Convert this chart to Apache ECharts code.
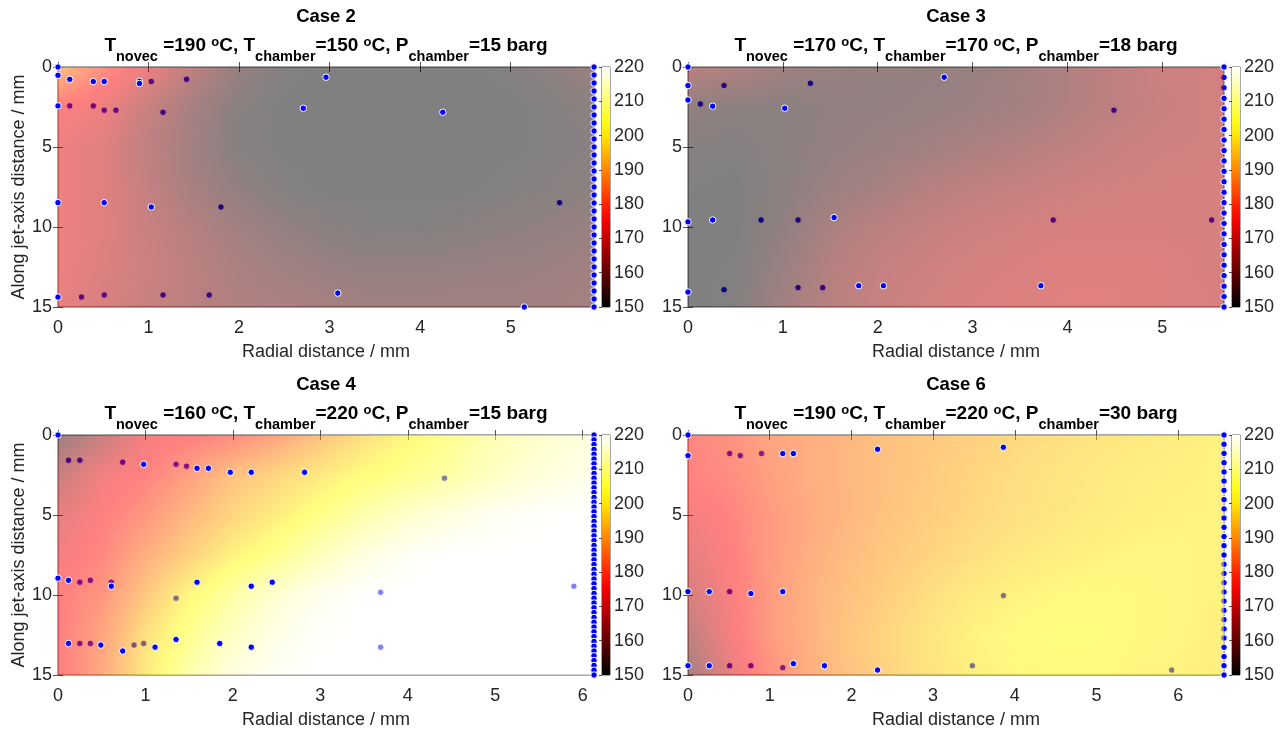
<!DOCTYPE html>
<html>
<head>
<meta charset="utf-8">
<script src="https://cdn.jsdelivr.net/npm/echarts@6/dist/echarts.min.js"></script>
<style>
  html, body { margin: 0; padding: 0; background: #ffffff; }
  #chart { width: 1283px; height: 730px; }
</style>
</head>
<body>
<div id="chart"></div>
<script>
// ---- case descriptions ----
const caseNames = ['Case 2', 'Case 3', 'Case 4', 'Case 6'];
const tNovec = [190, 170, 160, 190];
const tChamber = [150, 170, 220, 220];
const pChamber = [15, 18, 15, 30];
const radialMax = [5.92, 5.65, 6.13, 6.56];

// ---- axes ticks ----
const axialTicks = [0, 5, 10, 15];
const radialTicks = [[0, 1, 2, 3, 4, 5], [0, 1, 2, 3, 4, 5], [0, 1, 2, 3, 4, 5, 6], [0, 1, 2, 3, 4, 5, 6]];
const tempTicks = [150, 160, 170, 180, 190, 200, 210, 220];

// ---- temperature field samples (°C): rows along the jet axis, columns radial ----
const fieldAxial = [0, 2.5, 5, 7.5, 10, 12.5, 15];

const case2Radial = [0, 0.5, 1, 1.5, 2, 2.5, 3, 3.5, 4, 4.5, 5, 5.5, 5.92];
const case2Field = [
  [189, 180, 172, 163, 154.5, 151, 150, 150, 150, 150, 151, 153, 156],
  [176, 173, 165, 158, 152, 150, 150, 150, 150, 150, 150, 151, 153],
  [173, 170, 163, 157, 151.5, 150, 150, 150, 150, 150, 150, 151, 152],
  [173, 170, 164, 158, 153.5, 151, 150, 150, 150, 150, 151, 152, 153],
  [173, 170, 165, 161, 157, 154, 152, 151, 151, 152, 153, 154, 155],
  [173, 169, 166, 162, 159, 157, 155, 154, 154, 155, 155, 156, 157],
  [172, 168, 165, 162, 160, 159, 158, 157, 157, 157, 157, 157, 158]
];

const case3Radial = [0, 0.5, 1, 1.5, 2, 2.5, 3, 3.5, 4, 4.5, 5, 5.5, 5.65];
const case3Field = [
  [162, 160, 157, 155, 154, 154, 155, 157, 160, 163, 166, 167, 167],
  [154, 153, 152.5, 153.5, 154, 155, 156, 157.5, 160, 163, 165, 167, 167],
  [151.5, 151, 152.5, 154, 155.5, 157, 159, 161, 163, 165, 166.5, 167, 167.5],
  [150.5, 150, 152.5, 155.5, 158, 161, 163, 164.5, 166, 167, 167.5, 168, 168],
  [150, 150, 153.5, 159, 162, 164, 166, 167, 168, 168, 168, 168, 168],
  [150, 150.5, 155.5, 161, 164, 166, 167.5, 168.5, 169.5, 169.5, 169, 168, 168],
  [150, 151, 157, 162, 165, 167, 168.5, 169.5, 170, 170, 169, 168.5, 168]
];

const case4Radial = [0, 0.5, 1, 1.5, 2, 2.5, 3, 3.5, 4, 4.5, 5, 5.5, 6, 6.13];
const case4Field = [
  [156, 165, 174, 176, 179, 184, 190, 196, 201, 205, 210, 213, 215, 216],
  [165, 174, 177, 183, 190, 194, 198, 202, 205, 208, 212, 215, 217, 218],
  [171, 176, 181, 188, 194, 199, 204, 209, 213, 216, 218.5, 219.5, 220, 220],
  [174, 178, 186, 193, 200, 205, 211, 216, 219, 220, 220, 220, 220, 220],
  [176, 181, 191, 201, 208, 214, 218, 220, 220, 220, 220, 220, 220, 220],
  [176, 184, 196, 205, 212, 217, 219.5, 220, 220, 220, 220, 220, 220, 220],
  [175, 185, 198, 209, 216, 219, 220, 220, 220, 220, 220, 220, 220, 220]
];

const case6Radial = [0, 0.5, 1, 1.5, 2, 2.5, 3, 3.5, 4, 4.5, 5, 5.5, 6, 6.56];
const case6Field = [
  [178, 180, 184, 186, 188, 190, 191.5, 193, 194.5, 196, 197, 198, 199, 200],
  [177, 179, 183, 186, 188, 190, 192, 194, 195.5, 197, 198, 199, 199.5, 200],
  [174, 177, 182, 185.5, 188, 190.5, 192.5, 194.5, 196, 197.5, 198.5, 199.5, 200, 200],
  [171, 176, 182, 186, 189, 191.5, 194, 196, 198, 199, 200, 200.5, 200.5, 200],
  [168, 175, 182, 187, 190, 193, 196, 198.5, 200, 201, 201.5, 201, 200.5, 200],
  [163, 174, 182, 187, 191, 194.5, 197.5, 200, 201.5, 202, 202, 201, 200.5, 199.5],
  [158, 171, 180, 186, 190.5, 194, 197, 199.5, 201, 201.5, 201.5, 200.5, 200, 199]
];

// ---- measurement points [radial mm, axial mm]; "above" sit over the surface, "below" under it ----
const case2Above = [[0, 0], [0, 0.52], [0.13, 0.77], [0.39, 0.91], [0.51, 0.91], [0.9, 0.89], [0.9, 1.03], [2.96, 0.64],
  [0, 2.43], [2.71, 2.58], [4.25, 2.83], [0, 8.48], [0.51, 8.48], [1.03, 8.75], [0, 14.38], [3.09, 14.13], [5.15, 15.0]];
const case2Below = [[1.03, 0.91], [1.42, 0.77], [0.13, 2.43], [0.39, 2.43], [0.51, 2.7], [0.64, 2.7], [1.16, 2.83],
  [1.8, 8.75], [5.54, 8.48], [0.26, 14.38], [0.51, 14.25], [1.16, 14.25], [1.67, 14.25]];
const case2EdgeAbove = [0, 0.5, 1, 1.5, 2, 2.5, 3, 3.5, 4, 4.5, 5, 5.5, 6, 6.5, 7, 7.5, 8, 8.5, 9, 9.5, 10,
  10.5, 11, 11.5, 12, 12.5, 13, 13.5, 14, 14.5, 15];
const case2EdgeBelow = [];

const case3Above = [[0, 0], [0, 1.16], [2.7, 0.64], [0, 2.06], [0.26, 2.45], [1.02, 2.58], [0, 9.68], [0.26, 9.56],
  [1.54, 9.41], [0, 14.07], [1.8, 13.67], [2.06, 13.67], [3.72, 13.67]];
const case3Below = [[0.38, 1.16], [1.29, 1.02], [0.13, 2.31], [4.49, 2.7], [0.77, 9.56], [1.16, 9.56], [3.85, 9.56],
  [5.52, 9.56], [0.38, 13.92], [1.16, 13.79], [1.42, 13.79]];
const case3EdgeAbove = [0, 1.96, 2.61, 3.26, 3.91, 4.57, 5.22, 5.87, 6.52, 7.17, 7.83, 8.48, 9.13, 9.78, 10.43,
  11.09, 11.74, 12.39, 13.04, 13.7, 14.35, 15];
const case3EdgeBelow = [0.65, 1.3];

const case4Above = [[0, 0], [0.98, 1.83], [1.59, 2.08], [1.72, 2.08], [1.97, 2.33], [2.21, 2.33], [2.82, 2.33],
  [0, 8.95], [0.12, 9.08], [0.61, 9.45], [1.59, 9.2], [2.21, 9.45], [2.45, 9.2], [0.12, 13.03], [0.49, 13.13],
  [0.74, 13.5], [1.11, 13.26], [1.35, 12.78], [1.85, 13.03], [2.21, 13.26]];
const case4Below = [[0.12, 1.58], [0.25, 1.58], [0.74, 1.7], [1.35, 1.83], [1.47, 1.95], [4.42, 2.7], [0.25, 9.2],
  [0.37, 9.08], [0.61, 9.2], [1.35, 10.2], [3.69, 9.83], [5.9, 9.45], [0.25, 13.03], [0.37, 13.03], [0.87, 13.13],
  [0.98, 13.03], [3.69, 13.26]];
const case4EdgeAbove = [0, 0.3, 0.6, 0.9, 1.2, 1.5, 1.8, 2.1, 2.4, 2.7, 3, 3.3, 3.6, 3.9, 4.2, 4.5, 4.8, 5.1, 5.4,
  5.7, 6, 6.3, 6.6, 6.9, 7.2, 7.5, 7.8, 8.1, 8.4, 8.7, 9, 9.3, 9.6, 9.9, 10.2, 10.5, 10.8, 11.1, 11.4, 11.7, 12,
  12.3, 12.6, 12.9, 13.2, 13.5, 13.8, 14.1, 14.4, 14.7, 15];
const case4EdgeBelow = [];

const case6Above = [[0, 0], [0, 1.29], [1.16, 1.16], [1.29, 1.16], [2.32, 0.89], [3.86, 0.77], [0, 9.79],
  [0.26, 9.79], [0.77, 9.91], [1.16, 9.79], [0, 14.42], [0.26, 14.42], [1.29, 14.29], [1.67, 14.42], [2.32, 14.69]];
const case6Below = [[0.51, 1.16], [0.64, 1.29], [0.9, 1.16], [0.51, 9.79], [3.86, 10.04], [0.51, 14.42],
  [0.77, 14.42], [1.16, 14.54], [3.48, 14.42], [5.92, 14.69]];
const case6EdgeAbove = [0, 0.58, 1.15, 1.73, 2.31, 2.88, 3.46, 4.04, 4.62, 5.19, 5.77, 6.35, 6.92, 7.5,
  13.27, 13.85, 14.42, 15];
const case6EdgeBelow = [8.08, 8.65, 9.23, 9.81, 10.38, 10.96, 11.54, 12.12, 12.69];

// ---- colour scale (hot) ----
const cMin = 150, cMax = 220;

function hotColor(v) {
  const f = Math.min(1, Math.max(0, (v - cMin) / (cMax - cMin)));
  const r = Math.min(1, f / 0.375);
  const g = Math.min(1, Math.max(0, (f - 0.375) / 0.375));
  const b = Math.min(1, Math.max(0, (f - 0.75) / 0.25));
  return 'rgb(' + Math.round(r * 255) + ',' + Math.round(g * 255) + ',' + Math.round(b * 255) + ')';
}

const cases = [
  { radial: case2Radial, field: case2Field, above: case2Above, below: case2Below, edgeAbove: case2EdgeAbove, edgeBelow: case2EdgeBelow },
  { radial: case3Radial, field: case3Field, above: case3Above, below: case3Below, edgeAbove: case3EdgeAbove, edgeBelow: case3EdgeBelow },
  { radial: case4Radial, field: case4Field, above: case4Above, below: case4Below, edgeAbove: case4EdgeAbove, edgeBelow: case4EdgeBelow },
  { radial: case6Radial, field: case6Field, above: case6Above, below: case6Below, edgeAbove: case6EdgeAbove, edgeBelow: case6EdgeBelow }
];

// one cell per pair of neighbouring samples: [r0, a0, r1, a1, T00, T10, T01, T11]
function fieldCells(radial, axial, field) {
  const cells = [];
  for (let j = 0; j < axial.length - 1; j++) {
    for (let i = 0; i < radial.length - 1; i++) {
      cells.push([radial[i], axial[j], radial[i + 1], axial[j + 1],
        field[j][i], field[j][i + 1], field[j + 1][i], field[j + 1][i + 1]]);
    }
  }
  return cells;
}

// smooth shading of a cell: one pixel row at a time, each row a horizontal gradient
function renderField(params, api) {
  const a = api.coord([api.value(0), api.value(1)]);
  const b = api.coord([api.value(2), api.value(3)]);
  const v00 = api.value(4), v10 = api.value(5), v01 = api.value(6), v11 = api.value(7);
  const x0 = Math.round(a[0]), x1 = Math.round(b[0]);
  const yTop = Math.round(Math.min(a[1], b[1])), yBot = Math.round(Math.max(a[1], b[1]));
  const children = [];
  for (let py = yTop; py < yBot; py++) {
    const t = (py + 0.5 - a[1]) / (b[1] - a[1]);
    const vl = v00 + (v01 - v00) * t;
    const vr = v10 + (v11 - v10) * t;
    const stops = [];
    for (let k = 0; k <= 4; k++) {
      stops.push({ offset: k / 4, color: hotColor(vl + (vr - vl) * k / 4) });
    }
    children.push({
      type: 'rect',
      shape: { x: x0, y: py, width: x1 - x0, height: 1 },
      style: { fill: { type: 'linear', x: 0, y: 0, x2: 1, y2: 0, colorStops: stops }, opacity: 0.5 }
    });
  }
  return { type: 'group', children: children };
}

function renderColorbar(params, api) {
  const lo = api.coord([api.value(0), api.value(1)]);
  const hi = api.coord([api.value(2), api.value(3)]);
  const stops = [];
  for (let k = 0; k <= 14; k++) {
    stops.push({ offset: k / 14, color: hotColor(cMax - (cMax - cMin) * k / 14) });
  }
  return {
    type: 'rect',
    shape: { x: lo[0], y: hi[1], width: hi[0] - lo[0], height: lo[1] - hi[1] },
    style: { fill: { type: 'linear', x: 0, y: 0, x2: 0, y2: 1, colorStops: stops } }
  };
}

// ---- layout ----
const FONT = '"Liberation Sans", Arial, Helvetica, sans-serif';
const INK = '#262626';
const plotLeft = [58, 688, 58, 688];
const plotTop = [67, 67, 435, 435];
const plotW = 536, plotH = 240;

const grids = [], xAxes = [], yAxes = [], series = [], titles = [];

const titleRich = {
  m: { fontFamily: FONT, fontSize: 19, fontWeight: 'bold', color: '#000', lineHeight: 22, verticalAlign: 'top' },
  s: { fontFamily: FONT, fontSize: 14.5, fontWeight: 'bold', color: '#000', lineHeight: 16, verticalAlign: 'top', padding: [13, 0, 0, 0] },
  p: { fontFamily: FONT, fontSize: 13, fontWeight: 'bold', color: '#000', lineHeight: 10, verticalAlign: 'top' }
};

cases.forEach(function (c, k) {
  const gPlot = grids.length;
  grids.push({ left: plotLeft[k], top: plotTop[k], width: plotW, height: plotH, show: true,
    backgroundColor: '#ffffff', borderColor: INK, borderWidth: 0.8 });
  const gBar = grids.length;
  grids.push({ left: plotLeft[k] + plotW + 8, top: plotTop[k], width: 8, height: plotH, show: true,
    backgroundColor: 'transparent', borderColor: INK, borderWidth: 0.8 });

  const xMain = xAxes.length;
  xAxes.push({
    gridIndex: gPlot, type: 'value', min: 0, max: radialMax[k], interval: 1,
    name: 'Radial distance / mm', nameLocation: 'middle', nameGap: 36,
    nameTextStyle: { fontFamily: FONT, fontSize: 18, color: INK },
    axisLine: { show: false }, splitLine: { show: false },
    axisTick: { inside: true, length: 5, lineStyle: { color: INK, width: 0.8 }, customValues: radialTicks[k] },
    axisLabel: { fontFamily: FONT, fontSize: 18, color: INK, margin: 12, customValues: radialTicks[k] }
  });
  xAxes.push({
    gridIndex: gPlot, type: 'value', position: 'top', min: 0, max: radialMax[k], interval: 1,
    axisLine: { show: false }, splitLine: { show: false }, axisLabel: { show: false },
    axisTick: { inside: true, length: 5, lineStyle: { color: INK, width: 0.8 }, customValues: radialTicks[k] }
  });
  const yMain = yAxes.length;
  yAxes.push({
    gridIndex: gPlot, type: 'value', inverse: true, min: 0, max: 15, interval: 5,
    name: (k % 2 === 0) ? 'Along jet-axis distance / mm' : '', nameLocation: 'middle', nameGap: 30,
    nameTextStyle: { fontFamily: FONT, fontSize: 18, color: INK },
    axisLine: { show: false }, splitLine: { show: false },
    axisTick: { inside: true, length: 5, lineStyle: { color: INK, width: 0.8 }, customValues: axialTicks },
    axisLabel: { fontFamily: FONT, fontSize: 18, color: INK, margin: 6, customValues: axialTicks }
  });
  yAxes.push({
    gridIndex: gPlot, type: 'value', position: 'right', inverse: true, min: 0, max: 15, interval: 5,
    axisLine: { show: false }, splitLine: { show: false }, axisLabel: { show: false },
    axisTick: { inside: true, length: 5, lineStyle: { color: INK, width: 0.8 }, customValues: axialTicks }
  });

  const xBar = xAxes.length;
  xAxes.push({ gridIndex: gBar, type: 'value', min: 0, max: 1, show: false });
  const yBar = yAxes.length;
  yAxes.push({
    gridIndex: gBar, type: 'value', position: 'right', min: cMin, max: cMax, interval: 10,
    axisLine: { show: false }, splitLine: { show: false },
    axisTick: { inside: true, length: 3, lineStyle: { color: INK, width: 0.8 }, customValues: tempTicks },
    axisLabel: { fontFamily: FONT, fontSize: 18, color: INK, margin: 4, customValues: tempTicks }
  });

  // points under the translucent surface
  series.push({
    type: 'scatter', xAxisIndex: xMain, yAxisIndex: yMain, z: 1, clip: false, silent: true,
    symbolSize: 6.5, itemStyle: { color: '#0000ff', borderColor: '#ffffff', borderWidth: 1, opacity: 1 },
    data: c.below.concat(c.edgeBelow.map(function (y) { return [radialMax[k], y]; }))
  });
  // temperature surface
  series.push({
    type: 'custom', xAxisIndex: xMain, yAxisIndex: yMain, z: 2, silent: true, clip: true,
    renderItem: renderField, encode: { x: [0, 2], y: [1, 3] },
    data: fieldCells(c.radial, fieldAxial, c.field)
  });
  // points above the surface
  series.push({
    type: 'scatter', xAxisIndex: xMain, yAxisIndex: yMain, z: 3, clip: false, silent: true,
    symbolSize: 6.5, itemStyle: { color: '#0000ff', borderColor: '#ffffff', borderWidth: 1, opacity: 1 },
    data: c.above.concat(c.edgeAbove.map(function (y) { return [radialMax[k], y]; }))
  });
  // colour bar
  series.push({
    type: 'custom', xAxisIndex: xBar, yAxisIndex: yBar, z: 1, silent: true,
    renderItem: renderColorbar, encode: { x: [0, 2], y: [1, 3] },
    data: [[0, cMin, 1, cMax]]
  });

  const cx = plotLeft[k] + plotW / 2;
  titles.push({
    text: caseNames[k], left: cx, top: plotTop[k] - 60, textAlign: 'center', padding: 0,
    textStyle: { fontFamily: FONT, fontSize: 18.5, fontWeight: 'bold', color: '#000' }
  });
  titles.push({
    text: '{m|T}{s|novec}{m| =' + tNovec[k] + ' }{p|o}{m|C, T}{s|chamber}{m|=' + tChamber[k] +
      ' }{p|o}{m|C, P}{s|chamber}{m|=' + pChamber[k] + ' barg}',
    left: cx, top: plotTop[k] - 31, textAlign: 'center', padding: 0,
    textStyle: { rich: titleRich }
  });
});

const chart = echarts.init(document.getElementById('chart'), null, { renderer: 'canvas' });
chart.setOption({
  animation: false,
  backgroundColor: '#ffffff',
  title: titles,
  grid: grids,
  xAxis: xAxes,
  yAxis: yAxes,
  series: series
});
</script>
</body>
</html>
